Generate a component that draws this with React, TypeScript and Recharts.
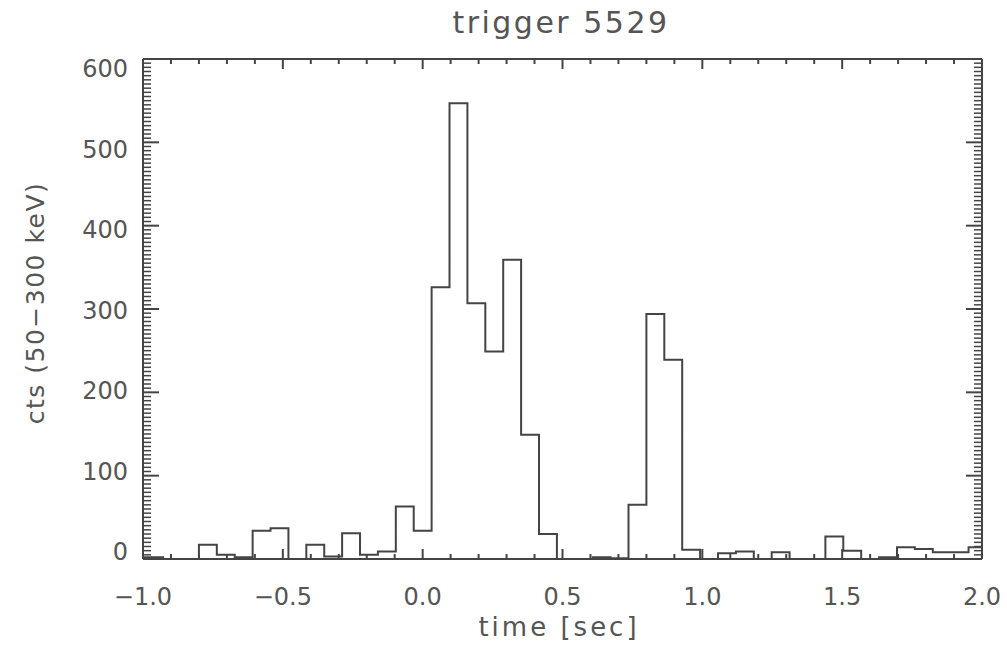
import React from "react";
import { LineChart, Line, XAxis, YAxis } from "recharts";

// 64 ms bins, first bin starts at -1.056 s
const binStart = -1.056;
const binWidth = 0.064;

const counts = [
  2, 2, 0, 0, 17, 5, 2, 34, 37, 0, 17, 3, 31, 5, 9, 63,
  34, 326, 547, 307, 249, 359, 149, 30, 0, 0, 2, 1, 65, 294, 239, 11,
  0, 7, 9, 0, 8, 0, 0, 27, 10, 0, 2, 14, 12, 8, 8, 14,
];

const xMajor = [-1, -0.5, 0, 0.5, 1, 1.5, 2];
const xTicks = [
  -1, -0.9, -0.8, -0.7, -0.6, -0.5, -0.4, -0.3, -0.2, -0.1, 0, 0.1, 0.2, 0.3, 0.4, 0.5,
  0.6, 0.7, 0.8, 0.9, 1, 1.1, 1.2, 1.3, 1.4, 1.5, 1.6, 1.7, 1.8, 1.9, 2,
];
const yMajor = [0, 100, 200, 300, 400, 500, 600];
const yTicks = Array.from({ length: 121 }, (_, i) => i * 5);

// step points: left edge of each bin, plus the right edge of the last one
const data = counts.map((c, i) => ({ t: binStart + i * binWidth, cts: c }));
data.push({ t: binStart + counts.length * binWidth, cts: counts[counts.length - 1] });

const W = 1007;
const H = 648;
const margin = { top: 58, right: 24, bottom: 88, left: 142 };
const plotW = W - margin.left - margin.right - 2;
const plotH = H - margin.top - margin.bottom - 2;
const plotTop = margin.top + 1;

const ink = "#444";
const textColor = "#555";
const font = "'DejaVu Sans', sans-serif";

const isMajor = (list: number[], v: number) => list.some((m) => Math.abs(m - v) < 1e-6);
const fmt = (v: number) => v.toFixed(1).replace("-", "\u2212");

// bottom axis draws its inward ticks plus the mirrored ones on the top frame
const XTick = (props: any) => {
  const x = Number(props.x);
  const y = Number(props.y);
  const major = isMajor(xMajor, props.payload.value);
  const len = major ? 10 : 5;
  const top = y - plotH;
  return (
    <g>
      <line x1={x} x2={x} y1={y} y2={y - len} stroke={ink} strokeWidth={2} />
      <line x1={x} x2={x} y1={top} y2={top + len} stroke={ink} strokeWidth={2} />
      {major && (
        <text x={x} y={y + 46} textAnchor="middle" fill={textColor} fontSize={24} fontFamily={font}>
          {fmt(props.payload.value)}
        </text>
      )}
    </g>
  );
};

// right axis draws its inward ticks plus the mirrored ones on the left frame
const YTickRight = (props: any) => {
  const x = Number(props.x);
  const y = Number(props.y);
  const major = isMajor(yMajor, props.payload.value);
  const len = major ? 16 : 8;
  const left = x - plotW;
  const w = major ? 2 : 1.5;
  return (
    <g>
      <line x1={x} x2={x - len} y1={y} y2={y} stroke={ink} strokeWidth={w} />
      <line x1={left} x2={left + len} y1={y} y2={y} stroke={ink} strokeWidth={w} />
    </g>
  );
};

// IDL puts the end labels slightly inside the frame
const YLabel = (props: any) => {
  const x = Number(props.x);
  const y = Number(props.y);
  const shift = 9 - ((y - plotTop) / plotH) * 17;
  return (
    <text x={x - 15} y={y + 9 + shift} textAnchor="end" fill={textColor} fontSize={24} fontFamily={font}>
      {props.payload.value}
    </text>
  );
};

const frame = { stroke: ink, strokeWidth: 2 };

export default function App() {
  return (
    <div style={{ position: "absolute", left: 0, top: 0, width: W, height: H, background: "#fff" }}>
      <div
        style={{
          position: "absolute", left: 561, top: 22, transform: "translate(-50%, -50%)",
          fontFamily: font, fontSize: 30, letterSpacing: 2.5, color: textColor, whiteSpace: "nowrap",
        }}
      >
        trigger 5529
      </div>
      <div
        style={{
          position: "absolute", left: 35, top: 303, transform: "translate(-50%, -50%) rotate(-90deg)",
          fontFamily: font, fontSize: 25, letterSpacing: 1.5, color: textColor, whiteSpace: "nowrap",
        }}
      >
        cts (50{"\u2212"}300 keV)
      </div>
      <div
        style={{
          position: "absolute", left: 559, top: 627, transform: "translate(-50%, -50%)",
          fontFamily: font, fontSize: 26, letterSpacing: 3, color: textColor, whiteSpace: "nowrap",
        }}
      >
        time [sec]
      </div>
      <LineChart width={W} height={H} data={data} margin={margin}>
        <XAxis
          xAxisId="x" dataKey="t" type="number" domain={[-1, 2]} allowDataOverflow
          ticks={xTicks} interval={0} height={1} tickSize={0} tickMargin={0}
          tick={<XTick />} tickLine={false} axisLine={frame}
        />
        <XAxis
          xAxisId="xt" orientation="top" type="number" domain={[-1, 2]} allowDataOverflow
          height={1} tick={false} tickLine={false} axisLine={frame}
        />
        <YAxis
          yAxisId="y" type="number" domain={[0, 600]} allowDataOverflow
          ticks={yMajor} interval={0} width={1} tickSize={0} tickMargin={0}
          tick={<YLabel />} tickLine={false} axisLine={frame}
        />
        <YAxis
          yAxisId="yr" orientation="right" type="number" domain={[0, 600]} allowDataOverflow
          ticks={yTicks} interval={0} width={1} tickSize={0} tickMargin={0}
          tick={<YTickRight />} tickLine={false} axisLine={frame}
        />
        <Line
          xAxisId="x" yAxisId="y" dataKey="cts" type="stepAfter"
          stroke={ink} strokeWidth={2} dot={false} activeDot={false}
          isAnimationActive={false}
        />
      </LineChart>
    </div>
  );
}
